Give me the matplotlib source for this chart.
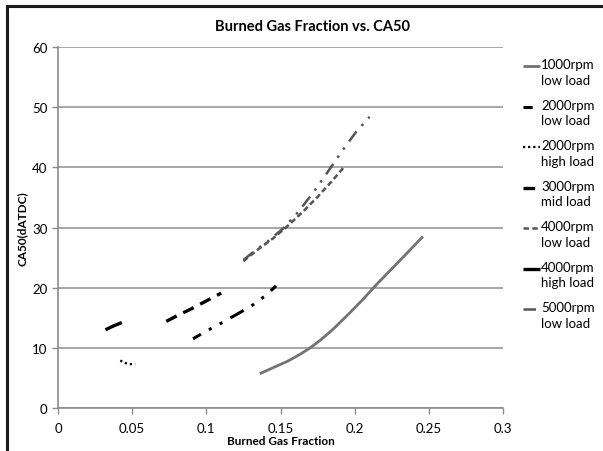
import matplotlib
matplotlib.use('Agg')
import matplotlib.pyplot as plt
from matplotlib.lines import Line2D
from matplotlib.patches import Rectangle

plt.rcParams['font.family'] = ['Lato', 'DejaVu Sans']

# data
bgf_1000_low = [0.136, 0.145, 0.155, 0.163, 0.170, 0.177, 0.185, 0.195, 0.205, 0.215, 0.230, 0.246]
ca50_1000_low = [5.7, 6.7, 7.8, 8.9, 10.0, 11.3, 13.0, 15.4, 17.9, 20.6, 24.4, 28.5]

bgf_2000_low = [0.091, 0.100, 0.110, 0.120, 0.130, 0.140, 0.147]
ca50_2000_low = [11.5, 12.8, 14.1, 15.5, 16.9, 18.7, 20.3]

bgf_2000_high = [0.042, 0.045, 0.048, 0.052]
ca50_2000_high = [7.9, 7.5, 7.3, 7.3]

bgf_3000_mid = [0.073, 0.080, 0.090, 0.100, 0.110]
ca50_3000_mid = [14.4, 15.3, 16.5, 17.8, 19.1]

bgf_4000_low = [0.125, 0.135, 0.145, 0.155, 0.165, 0.175, 0.185, 0.193]
ca50_4000_low = [24.4, 26.4, 28.2, 30.3, 32.6, 35.1, 37.8, 40.1]

bgf_4000_high = [0.032, 0.037, 0.043]
ca50_4000_high = [13.0, 13.6, 14.2]

bgf_5000_low = [0.125, 0.133, 0.142, 0.152, 0.162, 0.172, 0.182, 0.192, 0.201, 0.210]
ca50_5000_low = [24.6, 26.2, 27.8, 29.9, 32.6, 35.8, 39.3, 42.9, 45.9, 48.4]

x_ticks = [0, 0.05, 0.1, 0.15, 0.2, 0.25, 0.3]
x_tick_labels = ['0', '0.05', '0.1', '0.15', '0.2', '0.25', '0.3']
y_ticks = [0, 10, 20, 30, 40, 50, 60]

GRAY_L = '#737373'
GRAY_D = '#555555'

series = [
    (bgf_1000_low, ca50_1000_low, '1000rpm\nlow load', dict(color=GRAY_L, lw=2.0, linestyle='-')),
    (bgf_2000_low, ca50_2000_low, '2000rpm\nlow load', dict(color='black', lw=2.2, linestyle=(2, (5, 3, 1, 3, 1, 3)))),
    (bgf_2000_high, ca50_2000_high, '2000rpm\nhigh load', dict(color='black', lw=1.6, linestyle=(0, (1, 1.3)))),
    (bgf_3000_mid, ca50_3000_mid, '3000rpm\nmid load', dict(color='black', lw=2.4, linestyle=(0, (3.5, 2.2)))),
    (bgf_4000_low, ca50_4000_low, '4000rpm\nlow load', dict(color=GRAY_D, lw=1.8, linestyle=(0, (2.2, 1.3)))),
    (bgf_4000_high, ca50_4000_high, '4000rpm\nhigh load', dict(color='black', lw=2.4, linestyle='-')),
    (bgf_5000_low, ca50_5000_low, '5000rpm\nlow load', dict(color=GRAY_D, lw=1.8, linestyle=(0, (5, 3, 1, 3, 1, 3)))),
]

fig = plt.figure(figsize=(6.03, 4.52), dpi=100)
ax = fig.add_axes([0.0962, 0.0951, 0.7380, 0.7987])

for xs, ys, lab, st in series:
    ax.plot(xs, ys, solid_capstyle='butt', dash_capstyle='butt', **st)

ax.set_xlim(0, 0.3)
ax.set_ylim(0, 60)
ax.set_xticks(x_ticks)
ax.set_xticklabels(x_tick_labels)
ax.set_yticks(y_ticks)
ax.grid(axis='y', color='#a6a6a6', lw=1.4)
ax.set_axisbelow(True)
for s in ['top', 'right']:
    ax.spines[s].set_visible(False)
for s in ['left', 'bottom']:
    ax.spines[s].set_color('#8c8c8c')
    ax.spines[s].set_linewidth(1.2)
ax.tick_params(axis='both', colors='#8c8c8c', labelcolor='black', labelsize=9.5,
               length=4, width=1.0, direction='out')
ax.tick_params(axis='x', pad=6)

ax.set_xlabel('Burned Gas Fraction', fontsize=8.5, fontweight='bold', labelpad=1)
ax.set_ylabel('CA50(dATDC)', fontsize=8.5, fontweight='bold', labelpad=3)
fig.text(0.519, 0.940, 'Burned Gas Fraction vs. CA50', ha='center', va='center',
         fontsize=10.5, fontweight='bold')

# legend on the right, handle level with the first text line
top_y = 1 - 67 / 452
step = 40.5 / 452
for i, (xs, ys, lab, st) in enumerate(series):
    y = top_y - i * step
    fig.add_artist(Line2D([523 / 603, 540 / 603], [y, y], transform=fig.transFigure,
                          solid_capstyle='butt', dash_capstyle='butt', **st))
    fig.text(541 / 603, y + 0.017, lab, ha='left', va='top', fontsize=9.5,
             linespacing=1.35, transform=fig.transFigure)

fig.add_artist(Rectangle((7 / 603, -0.1), 1.2, 1 - 7 / 452 + 0.1, transform=fig.transFigure,
                         fill=False, edgecolor='#1a1a1a', lw=2.2))

fig.savefig('out.png', dpi=100)
